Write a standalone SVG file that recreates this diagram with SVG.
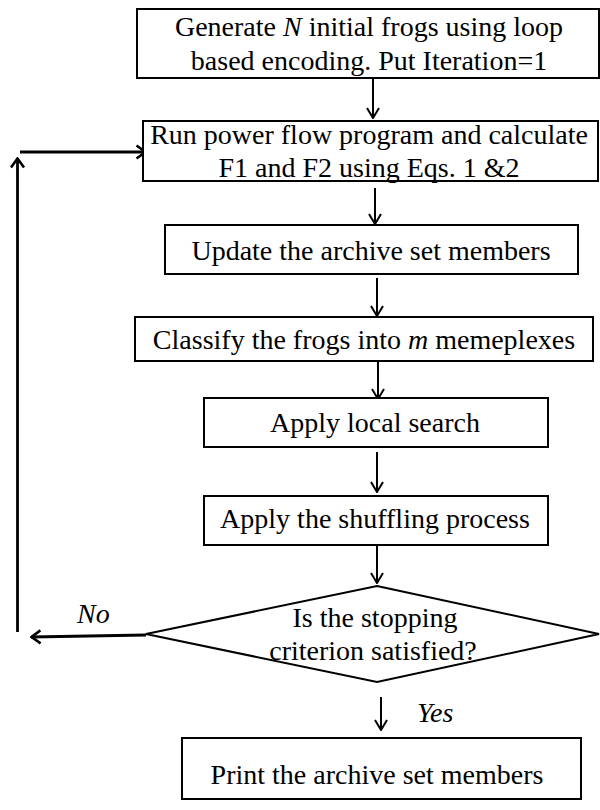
<svg xmlns="http://www.w3.org/2000/svg" width="600" height="810" viewBox="0 0 600 810">
<style>
.box{fill:#fff;stroke:#000;stroke-width:2}
.t{font-family:"Liberation Serif","Times New Roman",serif;font-size:28px;fill:#000;text-anchor:middle}
.lbl{font-family:"Liberation Serif","Times New Roman",serif;font-size:28px;font-style:italic;fill:#000}
.c{fill:none;stroke:#000;stroke-width:2}
.fb{fill:none;stroke:#000;stroke-width:2.8}
</style>
<defs>
<marker id="ah" viewBox="0 0 12 14" refX="11" refY="7" markerWidth="12" markerHeight="14" markerUnits="userSpaceOnUse" orient="auto">
<path d="M1,1 L11,7 L1,13" fill="none" stroke="#000" stroke-width="2"/>
</marker>
<marker id="ahb" viewBox="0 0 12 16" refX="11" refY="8" markerWidth="12" markerHeight="16" markerUnits="userSpaceOnUse" orient="auto">
<path d="M1.5,1.5 L10.5,8 L1.5,14.5" fill="none" stroke="#000" stroke-width="2.6"/>
</marker>
</defs>
<rect width="600" height="810" fill="#fff"/>
<g id="connectors">
<line class="c" x1="373" y1="79" x2="373" y2="118" marker-end="url(#ah)"/>
<line class="c" x1="375" y1="188" x2="375" y2="224" marker-end="url(#ah)"/>
<line class="c" x1="377" y1="278" x2="377" y2="316" marker-end="url(#ah)"/>
<line class="c" x1="378" y1="362" x2="378" y2="399" marker-end="url(#ah)"/>
<line class="c" x1="377" y1="452" x2="377" y2="492" marker-end="url(#ah)"/>
<line class="c" x1="377" y1="542" x2="377" y2="583" marker-end="url(#ah)"/>
<line class="c" x1="381" y1="697" x2="381" y2="730" marker-end="url(#ah)"/>
<line class="fb" x1="146" y1="635" x2="31" y2="637" marker-end="url(#ahb)"/>
<line class="fb" x1="17.5" y1="632" x2="17.5" y2="158" marker-end="url(#ahb)"/>
<line class="fb" x1="20" y1="152" x2="146" y2="152" marker-end="url(#ahb)"/>
<text class="lbl" x="77" y="623">No</text>
<text class="lbl" x="417" y="722">Yes</text>
</g>
<g id="n1">
<rect class="box" x="137" y="9" width="462" height="69"/>
<text class="t" x="369" y="36">Generate <tspan font-style="italic">N</tspan> initial frogs using loop</text>
<text class="t" x="369" y="70">based encoding. Put Iteration=1</text>
</g>
<g id="n2">
<rect class="box" x="143" y="121" width="455" height="60"/>
<text class="t" x="369" y="144">Run power flow program and calculate</text>
<text class="t" x="369" y="177">F1 and F2 using Eqs. 1 &amp;2</text>
</g>
<g id="n3">
<rect class="box" x="165" y="225" width="413" height="49"/>
<text class="t" x="371" y="260">Update the archive set members</text>
</g>
<g id="n4">
<rect class="box" x="135" y="317" width="458" height="44"/>
<text class="t" x="364" y="349">Classify the frogs into <tspan font-style="italic">m</tspan> memeplexes</text>
</g>
<g id="n5">
<rect class="box" x="204" y="398" width="344" height="49"/>
<text class="t" x="375" y="432">Apply local search</text>
</g>
<g id="n6">
<rect class="box" x="204" y="496" width="344" height="49"/>
<text class="t" x="375" y="528">Apply the shuffling process</text>
</g>
<g id="n7">
<polygon class="box" points="377,586 599,634 377,682 146,634"/>
<text class="t" x="375" y="627">Is the stopping</text>
<text class="t" x="373" y="660">criterion satisfied?</text>
</g>
<g id="n8">
<rect class="box" x="182" y="738" width="399" height="61"/>
<text class="t" x="377" y="784">Print the archive set members</text>
</g>
</svg>
